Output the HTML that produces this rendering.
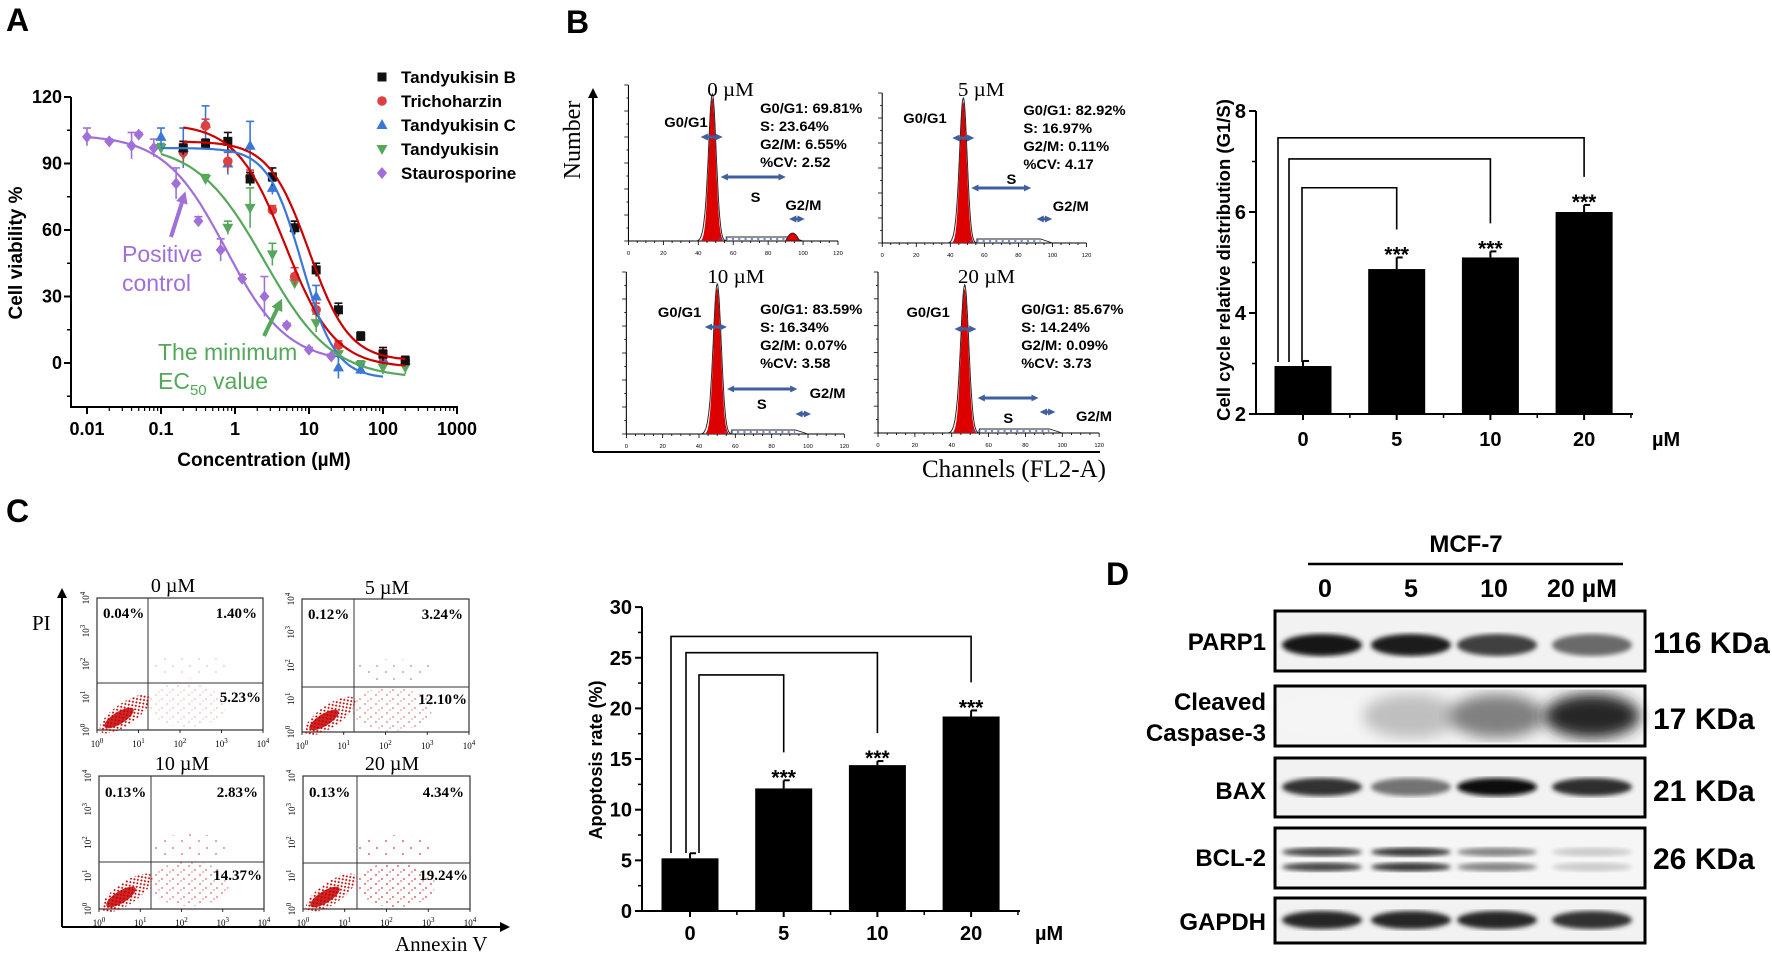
<!DOCTYPE html>
<html><head><meta charset="utf-8">
<style>
html,body{margin:0;padding:0;background:#fff;}
svg{display:block;font-family:"Liberation Sans",sans-serif;}
.serif{font-family:"Liberation Serif",serif;}
</style></head>
<body>
<svg id="fig" xmlns="http://www.w3.org/2000/svg" width="1772" height="953" viewBox="0 0 1772 953">
<defs>
<marker id="ah" viewBox="0 0 10 10" refX="5" refY="5" markerWidth="2.3" markerHeight="2.3" orient="auto-start-reverse"><path d="M0,0 L10,5 L0,10 z" fill="#3f5f9f"/></marker>
<marker id="ahk" viewBox="0 0 10 10" refX="8" refY="5" markerWidth="5" markerHeight="5" orient="auto"><path d="M0,0 L10,5 L0,10 z" fill="#000"/></marker>
<marker id="ahp" viewBox="0 0 10 10" refX="6" refY="5" markerWidth="3" markerHeight="3" orient="auto"><path d="M0,0 L10,5 L0,10 z" fill="#a06fd8"/></marker>
<marker id="ahg" viewBox="0 0 10 10" refX="6" refY="5" markerWidth="3" markerHeight="3" orient="auto"><path d="M0,0 L10,5 L0,10 z" fill="#55a85a"/></marker>
<pattern id="sparse" width="11" height="9" patternUnits="userSpaceOnUse"><circle cx="2" cy="2" r="0.9" fill="#d02020"/><circle cx="8" cy="6" r="0.9" fill="#d02020"/><circle cx="5" cy="8" r="0.7" fill="#d02020"/></pattern>
<pattern id="dense" width="5" height="5" patternUnits="userSpaceOnUse"><circle cx="1" cy="1" r="1" fill="#c00000"/><circle cx="3.5" cy="3.5" r="1" fill="#c00000"/></pattern>
<pattern id="vsparse" width="17" height="13" patternUnits="userSpaceOnUse"><circle cx="3" cy="3" r="0.9" fill="#d02020"/><circle cx="12" cy="9" r="0.9" fill="#d02020"/></pattern>
<filter id="blur2"><feGaussianBlur stdDeviation="2.5"/></filter>
<filter id="blur6"><feGaussianBlur stdDeviation="7"/></filter>
</defs>
</svg>
<script>
// ===== Panel A data =====
const aSeries=['Tandyukisin B','Trichoharzin','Tandyukisin C','Tandyukisin','Staurosporine'];
const aConcB=[0.2,0.4,0.8,1.6,3.2,6.4,12.5,25,50,100,200];
const aValB=[97,99,100,83,84,61,42,24,12,4,1];
const aErrB=[3,2,4,3,4,3,3,3,2,3,2];
const aConcR=[0.2,0.4,0.8,1.6,3.2,6.4,12.5,25,100,200];
const aValR=[95,107,91,84,69,39,24,8,3,1];
const aErrR=[4,3,5,3,2,4,3,2,3,2];
const aConcC=[0.1,0.2,0.4,0.8,1.6,3.2,6.4,12.5,25,50,100];
const aValC=[102,97,108,90,98,79,61,30,-2,-3,2];
const aErrC=[4,9,8,5,11,3,3,5,5,2,3];
const aConcG=[0.1,0.2,0.4,0.8,1.6,3.2,6.4,12.5,25,50,100,200];
const aValG=[97,94,83,61,70,49,36,18,4,-1,-2,-2];
const aErrG=[2,3,2,3,9,5,2,4,3,2,3,3];
const aConcP=[0.01,0.02,0.04,0.05,0.08,0.16,0.32,0.64,1.25,2.5,5,10,20];
const aValP=[102,100,98,103,97,81,64,51,38,30,17,6,3];
const aErrP=[4,1,6,1,4,7,2,5,2,9,1,1,1];
// curve params: top, bottom, EC50, hill, xmin, xmax
const aFitB=[100,1,10,1.6,0.2,200];
const aFitR=[108,-2,4.8,1.3,0.2,200];
const aFitC=[97,-7,8,1.9,0.1,100];
const aFitG=[99,-7,2.5,0.95,0.1,200];
const aFitP=[103,0,0.75,1.05,0.01,20];
const aXTicks=[0.01,0.1,1,10,100,1000];
const aXTickLabels=['0.01','0.1','1','10','100','1000'];
const aYTicks=[0,30,60,90,120];
// ===== Panel B bar data =====
const cycCats=['0','5','10','20'];
const cycVals=[2.95,4.87,5.1,6.0];
const cycErr=[0.1,0.23,0.12,0.14];
const cycTicks=[2,4,6,8];
const cycBrackets=[6.48,7.05,7.47];
// ===== Panel C bar data =====
const apoCats=['0','5','10','20'];
const apoVals=[5.2,12.1,14.4,19.2];
const apoErr=[0.5,0.8,0.4,0.6];
const apoTicks=[0,5,10,15,20,25,30];
const apoBrackets=[23.3,25.5,27.1];
// ===== Panel D band intensities =====
const wbLanes=['0','5','10','20 µM'];
const wbPARP=[0.92,0.88,0.75,0.58];
const wbCasp=[0.04,0.25,0.5,0.85];
const wbBAX=[0.8,0.55,0.95,0.82];
const wbBCL=[0.72,0.78,0.48,0.2];
const wbGAPDH=[0.85,0.85,0.85,0.8];

const NS='http://www.w3.org/2000/svg';
const svg=document.getElementById('fig');
function mk(parent,tag,attrs,name,text){
  const el=document.createElementNS(NS,tag);
  for(const k in attrs) el.setAttribute(k,attrs[k]);
  
  
  if(text!==undefined) el.textContent=text;
  parent.appendChild(el);
  return el;
}
function g(name){return mk(svg,'g',{},name);}
function line(p,x1,y1,x2,y2,name,st){return mk(p,'line',Object.assign({x1:x1,y1:y1,x2:x2,y2:y2,stroke:'#000','stroke-width':2},st||{}),name);}
function txt(p,x,y,s,name,st){return mk(p,'text',Object.assign({x:x,y:y,fill:'#000'},st||{}),name,s);}

const lt=g('panel-letters');
txt(lt,6,31,'A','panel-label-a',{'font-size':32,'font-weight':'bold'});
txt(lt,566,33,'B','panel-label-b',{'font-size':32,'font-weight':'bold'});
txt(lt,6,522,'C','panel-label-c',{'font-size':32,'font-weight':'bold'});
txt(lt,1106,585,'D','panel-label-d',{'font-size':32,'font-weight':'bold'});

// ===== Panel A =====
(function(){
  const P=g('panel-a-dose-response');
  const xA=c=>87+(Math.log10(c)+2)*74;
  const yA=v=>363-v*(66.5/30);
  line(P,71,97,71,408,'y-axis',{});
  line(P,70,407,458,407,'x-axis',{});
  aYTicks.forEach(v=>{line(P,64,yA(v),71,yA(v),'y-tick',{});
    txt(P,62,yA(v)+6,String(v),'y-tick-label',{'font-size':18,'font-weight':'bold','text-anchor':'end'});});
  for(let v=-15;v<=105;v+=30){line(P,67,yA(v),71,yA(v),'y-minor-tick',{'stroke-width':1.5});}
  aXTicks.forEach((c,i)=>{line(P,xA(c),407,xA(c),414,'x-tick',{});
    txt(P,xA(c),435,aXTickLabels[i],'x-tick-label',{'font-size':18,'font-weight':'bold','text-anchor':'middle'});
    if(i<aXTicks.length-1){for(let m=2;m<10;m++){line(P,xA(c*m),407,xA(c*m),411,'x-minor-tick',{'stroke-width':1.2});}}});
  txt(P,264,466,'Concentration (µM)','x-axis-title',{'font-size':19,'font-weight':'bold','text-anchor':'middle'});
  txt(P,0,0,'Cell viability %','y-axis-title',{'font-size':19,'font-weight':'bold','text-anchor':'middle',transform:'translate(22,253) rotate(-90)'});
  const ser=[
    {c:aConcB,v:aValB,e:aErrB,f:aFitB,col:'#111',lc:'#cc0000',m:'sq'},
    {c:aConcR,v:aValR,e:aErrR,f:aFitR,col:'#dd4040',lc:'#cc0000',m:'ci'},
    {c:aConcC,v:aValC,e:aErrC,f:aFitC,col:'#3a78d8',lc:'#3a78d8',m:'tu'},
    {c:aConcG,v:aValG,e:aErrG,f:aFitG,col:'#55a85a',lc:'#55a85a',m:'td'},
    {c:aConcP,v:aValP,e:aErrP,f:aFitP,col:'#a06fd8',lc:'#a06fd8',m:'di'}];
  function marker(p,x,y,m,col,name){
    if(m==='sq') return mk(p,'rect',{x:x-4.5,y:y-4.5,width:9,height:9,fill:col},name);
    if(m==='ci') return mk(p,'circle',{cx:x,cy:y,r:4.8,fill:col},name);
    if(m==='tu') return mk(p,'path',{d:`M${x},${y-6}L${x+5.5},${y+4}L${x-5.5},${y+4}Z`,fill:col},name);
    if(m==='td') return mk(p,'path',{d:`M${x},${y+6}L${x+5.5},${y-4}L${x-5.5},${y-4}Z`,fill:col},name);
    return mk(p,'path',{d:`M${x},${y-6}L${x+5},${y}L${x},${y+6}L${x-5},${y}Z`,fill:col},name);
  }
  [0,1,2,3,4].reverse().forEach(si=>{
    const s=ser[si];const sg=mk(P,'g',{},'series-'+aSeries[si].toLowerCase().replace(/ /g,'-'));
    s.c.forEach((c,i)=>{const x=xA(c);
      line(sg,x,yA(s.v[i]+s.e[i]),x,yA(s.v[i]-s.e[i]),'error-bar',{stroke:s.col,'stroke-width':1.6});
      line(sg,x-4,yA(s.v[i]+s.e[i]),x+4,yA(s.v[i]+s.e[i]),'error-cap',{stroke:s.col,'stroke-width':1.6});
      marker(sg,x,yA(s.v[i]),s.m,s.col,'data-point');});
  });
  ser.forEach((s,si)=>{const f=s.f;let d='';
    const l0=Math.log10(f[4]),l1=Math.log10(f[5]);
    for(let k=0;k<=80;k++){const c=Math.pow(10,l0+(l1-l0)*k/80);
      const v=f[1]+(f[0]-f[1])/(1+Math.pow(c/f[2],f[3]));
      d+=(k?'L':'M')+xA(c).toFixed(1)+','+yA(v).toFixed(1);}
    mk(P,'path',{d:d,fill:'none',stroke:s.lc,'stroke-width':2.2},'fit-curve');});
  const L=mk(P,'g',{},'legend');
  aSeries.forEach((n,i)=>{const y=77+i*24;
    marker(L,382,y,ser[i].m,ser[i].col,'legend-marker');
    txt(L,401,y+6,n,'legend-entry',{'font-size':17,'font-weight':'bold'});});
  txt(P,122,262,'Positive','annotation-positive',{'font-size':23,fill:'#a06fd8'});
  txt(P,122,291,'control','annotation-control',{'font-size':23,fill:'#a06fd8'});
  line(P,171,237,184,196,'annotation-arrow-purple',{stroke:'#a06fd8','stroke-width':4,'marker-end':'url(#ahp)'});
  txt(P,158,360,'The minimum','annotation-minimum',{'font-size':23,fill:'#55a85a'});
  const t=txt(P,158,389,'EC','annotation-ec50',{'font-size':23,fill:'#55a85a'});
  mk(t,'tspan',{'font-size':15,dy:6},'subscript','50');
  mk(t,'tspan',{dy:-6},'suffix',' value');
  line(P,264,336,280,303,'annotation-arrow-green',{stroke:'#55a85a','stroke-width':4,'marker-end':'url(#ahg)'});
})();

// ===== Panel B flow histograms =====
(function(){
  const P=g('panel-b-cell-cycle-histograms');
  line(P,593,452,1100,452,'big-x-axis',{'stroke-width':2});
  line(P,593,452,593,90,'big-y-axis',{'stroke-width':2,'marker-end':'url(#ahk)'});
  txt(P,0,0,'Number','y-axis-title',{'font-size':24,'text-anchor':'middle',class:'serif',transform:'translate(580,140) rotate(-90)'});
  txt(P,1014,477,'Channels (FL2-A)','x-axis-title',{'font-size':25,'text-anchor':'middle',class:'serif'});
  const Q=mk(P,'g',{transform:'matrix(1.053,0,0,1,-22.3,0)'},'histogram-grid');
  const fb=[
   {t:'0 µM',tx:715,ty:96,x0:618,x1:817,yT:85,yb:241,pk:48,pY:98,g2:true,s:['G0/G1: 69.81%','S: 23.64%','G2/M: 6.55%','%CV: 2.52'],sx:743,sy:113,g1L:[652,127],g1A:[687,707,137],sA:[706,767,177],sL:[734,202],g2L:[767,210],g2A:[771,785,219]},
   {t:'5 µM',tx:953,ty:96,x0:859,x1:1053,yT:93,yb:243,pk:47.6,pY:102,g2:false,s:['G0/G1: 82.92%','S: 16.97%','G2/M: 0.11%','%CV: 4.17'],sx:993,sy:115,g1L:[879,123],g1A:[926,946,138],sA:[944,1000,188],sL:[977,184],g2L:[1021,211],g2A:[1006,1020,219]},
   {t:'10 µM',tx:720,ty:283,x0:616,x1:823,yT:272,yb:434,pk:50,pY:288,g2:false,s:['G0/G1: 83.59%','S: 16.34%','G2/M: 0.07%','%CV: 3.58'],sx:743,sy:314,g1L:[646,317],g1A:[691,711,327],sA:[712,778,389],sL:[740,409],g2L:[790,398],g2A:[777,791,414]},
   {t:'20 µM',tx:958,ty:283,x0:855,x1:1065,yT:272,yb:433,pk:47,pY:289,g2:false,s:['G0/G1: 85.67%','S: 14.24%','G2/M: 0.09%','%CV: 3.73'],sx:991,sy:314,g1L:[882,317],g1A:[928,948,329],sA:[950,1007,398],sL:[974,423],g2L:[1043,421],g2A:[1009,1023,412]}];
  fb.forEach(f=>{
    const S=mk(Q,'g',{},'histogram-'+f.t.replace(' µM','um'));
    const X=ch=>f.x0+(f.x1-f.x0)*ch/120;
    line(S,f.x0,f.yT,f.x0,f.yb,'hist-y-axis',{'stroke-width':1});
    line(S,f.x0,f.yb,f.x1,f.yb,'hist-x-axis',{'stroke-width':1});
    for(let k=0;k<=24;k++){line(S,X(k*5),f.yb,X(k*5),f.yb+(k%4===0?4:2),'hist-x-tick',{'stroke-width':0.8});}
    for(let k=0;k<=6;k++){txt(S,X(k*20),f.yb+14,String(k*20),'hist-x-tick-label',{'font-size':5.5,'text-anchor':'middle'});}
    for(let k=0;k<=12;k++){const y=f.yb-(f.yb-f.yT)*k/12;line(S,f.x0-(k%2===0?4:2),y,f.x0,y,'hist-y-tick',{'stroke-width':0.8});}
    const H=f.yb-f.pY;
    let d='M'+X(f.pk-6)+','+f.yb;let o='M'+X(f.pk-10)+','+f.yb;
    for(let k=-6;k<=6;k+=0.25){d+='L'+X(f.pk+k).toFixed(1)+','+(f.yb-H*Math.exp(-k*k/(2*2*2))).toFixed(1);}
    d+='L'+X(f.pk+6)+','+f.yb+'Z';
    for(let k=-10;k<=8;k+=0.25){const h=H*1.02*Math.exp(-k*k/(2*2.1*2.1))+(k<0?9*Math.exp(-(k+4)*(k+4)/6):8*Math.exp(-(k-3)*(k-3)/5));o+='L'+X(f.pk+k).toFixed(1)+','+(f.yb-h).toFixed(1);}
    o+='L'+X(f.pk+8)+','+(f.yb-4)+'L'+X(93)+','+(f.yb-4)+'L'+X(100)+','+f.yb;
    mk(S,'path',{d:d,fill:'#dd0000'},'g1-peak');
    mk(S,'path',{d:o,fill:'none',stroke:'#222','stroke-width':0.9},'histogram-outline');
    line(S,X(f.pk+4),f.yb-2,X(93),f.yb-2,'s-phase-fill',{stroke:'#4060d0','stroke-width':1.5,'stroke-dasharray':'2 4'});
    if(f.g2){mk(S,'path',{d:`M${X(90)},${f.yb}Q${X(94)},${f.yb-16} ${X(98)},${f.yb}Z`,fill:'#dd0000',stroke:'#222','stroke-width':0.8},'g2-peak');}
    txt(S,f.tx,f.ty,f.t,'histogram-title',{'font-size':20,'text-anchor':'middle',class:'serif'});
    f.s.forEach((s,i)=>txt(S,f.sx,f.sy+i*18,s,'phase-stat',{'font-size':14,'font-weight':'bold'}));
    txt(S,f.g1L[0],f.g1L[1],'G0/G1','g0g1-label',{'font-size':14,'font-weight':'bold'});
    txt(S,f.sL[0],f.sL[1],'S','s-label',{'font-size':14,'font-weight':'bold'});
    txt(S,f.g2L[0],f.g2L[1],'G2/M','g2m-label',{'font-size':14,'font-weight':'bold'});
    [f.g1A,f.sA,f.g2A].forEach(a=>line(S,a[0]+3,a[2],a[1]-3,a[2],'phase-range-arrow',{stroke:'#3f5f9f','stroke-width':3,'marker-start':'url(#ah)','marker-end':'url(#ah)'}));
  });
})();

// ===== Bar chart helper =====
function barChart(P,o){
  const y=o.y;
  line(P,o.ax,y(o.ticks[0])+1,o.ax,y(o.ticks[o.ticks.length-1]),'y-axis',{});
  line(P,o.ax-1,y(o.ticks[0]),o.axEnd,y(o.ticks[0]),'x-axis',{});
  o.ticks.forEach(t=>{line(P,o.ax-7,y(t),o.ax,y(t),'y-tick',{});
    txt(P,o.ax-10,y(t)+7,String(t),'y-tick-label',{'font-size':20,'font-weight':'bold','text-anchor':'end'});});
  for(let i=0;i<o.ticks.length-1;i++){const m=(o.ticks[i]+o.ticks[i+1])/2;line(P,o.ax-4,y(m),o.ax,y(m),'y-minor-tick',{'stroke-width':1.5});}
  o.cats.forEach((c,i)=>{const cx=o.c0+i*o.step;
    line(P,cx,y(o.ticks[0]),cx,y(o.ticks[0])+6,'x-tick',{});
    line(P,cx+o.step/2,y(o.ticks[0]),cx+o.step/2,y(o.ticks[0])+4,'x-minor-tick',{'stroke-width':1.5});
    txt(P,cx,o.labY,c,'x-tick-label',{'font-size':20,'font-weight':'bold','text-anchor':'middle'});
    const top=y(o.vals[i]),et=y(o.vals[i]+o.err[i]);
    line(P,cx,top,cx,et,'error-bar',{'stroke-width':2});
    line(P,cx,et,cx+6,et,'error-cap',{'stroke-width':2});
    mk(P,'rect',{x:cx-28.5,y:top,width:57,height:y(o.ticks[0])-top,fill:'#000'},'bar-'+c);
    if(i>0){
      txt(P,cx,et+4,'***','significance-stars',{'font-size':21,'font-weight':'bold','text-anchor':'middle'});
      const by=y(o.brk[i-1]),lx=o.c0+o.lOff[i-1];
      mk(P,'path',{d:`M${lx},${o.lBot}V${by}H${cx}V${et-28}`,fill:'none',stroke:'#000','stroke-width':1.6},'significance-bracket');
    }
  });
  txt(P,o.umX,o.labY,'µM','x-unit-label',{'font-size':20,'font-weight':'bold'});
}
(function(){
  const P=g('panel-b-g1s-bar-chart');
  barChart(P,{y:v=>414-(v-2)*50.5,ticks:cycTicks,cats:cycCats,vals:cycVals,err:cycErr,brk:cycBrackets,
    ax:1256,axEnd:1633,c0:1303,step:93.7,labY:446,umX:1652,lOff:[-1,-14,-25],lBot:362});
  txt(P,0,0,'Cell cycle relative distribution (G1/S)','y-axis-title',{'font-size':18.5,'font-weight':'bold','text-anchor':'middle',transform:'translate(1230,260) rotate(-90)'});
})();
(function(){
  const P=g('panel-c-apoptosis-bar-chart');
  barChart(P,{y:v=>911-v*10.13,ticks:apoTicks,cats:apoCats,vals:apoVals,err:apoErr,brk:apoBrackets,
    ax:642,axEnd:1020,c0:690,step:93.7,labY:940,umX:1035,lOff:[9,-4,-19],lBot:853});
  txt(P,0,0,'Apoptosis rate (%)','y-axis-title',{'font-size':18,'font-weight':'bold','text-anchor':'middle',transform:'translate(602,760) rotate(-90)'});
})();

// ===== Panel C scatter =====
(function(){
  const P=g('panel-c-annexin-scatter');
  line(P,62,927,508,927,'big-x-axis',{'stroke-width':2,'marker-end':'url(#ahk)'});
  line(P,62,927,62,590,'big-y-axis',{'stroke-width':2,'marker-end':'url(#ahk)'});
  txt(P,32,630,'PI','y-axis-title',{'font-size':21,class:'serif'});
  txt(P,395,951,'Annexin V','x-axis-title',{'font-size':21,class:'serif'});
  const sc=[
   {t:'0 µM',tx:173,ty:592,x0:97,x1:263,y0:598,y1:730,vx:148,hy:683,p:['0.04%','1.40%','5.23%'],ly:618,lry:702,den:0.3},
   {t:'5 µM',tx:387,ty:594,x0:302,x1:469,y0:599,y1:732,vx:354,hy:687,p:['0.12%','3.24%','12.10%'],ly:619,lry:704,den:0.6},
   {t:'10 µM',tx:182,ty:770,x0:99,x1:264,y0:776,y1:909,vx:151,hy:862,p:['0.13%','2.83%','14.37%'],ly:797,lry:880,den:0.7},
   {t:'20 µM',tx:392,ty:770,x0:303,x1:470,y0:776,y1:909,vx:357,hy:863,p:['0.13%','4.34%','19.24%'],ly:797,lry:880,den:0.9}];
  sc.forEach(s=>{
    const S=mk(P,'g',{},'scatter-'+s.t.replace(' µM','um'));
    mk(S,'rect',{x:s.x0,y:s.y0,width:s.x1-s.x0,height:s.y1-s.y0,fill:'none',stroke:'#333','stroke-width':1.2},'plot-frame');
    line(S,s.vx,s.y0,s.vx,s.y1,'quadrant-vline',{'stroke-width':1,stroke:'#333'});
    line(S,s.x0,s.hy,s.x1,s.hy,'quadrant-hline',{'stroke-width':1,stroke:'#333'});
    mk(S,'ellipse',{cx:s.vx+38,cy:s.hy+22,rx:40,ry:22,fill:'url(#sparse)',opacity:s.den},'early-apoptotic-events');
    mk(S,'ellipse',{cx:s.vx+40,cy:s.hy-16,rx:40,ry:12,fill:'url(#vsparse)',opacity:s.den},'late-apoptotic-events');
    mk(S,'ellipse',{cx:s.x0+28,cy:s.y1-16,rx:30,ry:11,fill:'url(#dense)',transform:`rotate(-35 ${s.x0+28} ${s.y1-16})`},'cluster-halo');
    mk(S,'ellipse',{cx:s.x0+22,cy:s.y1-12,rx:17,ry:6,fill:'#c40000',opacity:0.85,transform:`rotate(-32 ${s.x0+22} ${s.y1-12})`},'viable-cell-cluster');
    const w=(s.x1-s.x0)/4,h=(s.y1-s.y0)/4;
    for(let k=0;k<=4;k++){
      const tx=txt(S,s.x0+k*w,s.y1+17,'10','x-tick-label',{'font-size':9,'text-anchor':'middle',class:'serif'});
      mk(tx,'tspan',{dy:-4,'font-size':7},'exponent',String(k));
      const ty=txt(S,0,0,'10','y-tick-label',{'font-size':9,'text-anchor':'middle',class:'serif',transform:`translate(${s.x0-8},${s.y1-k*h}) rotate(-90)`});
      mk(ty,'tspan',{dy:-4,'font-size':7},'exponent',String(k));
      line(S,s.x0+k*w,s.y1,s.x0+k*w,s.y1+3,'x-tick',{'stroke-width':0.8});
    }
    txt(S,s.tx,s.ty,s.t,'scatter-title',{'font-size':20,'text-anchor':'middle',class:'serif'});
    txt(S,s.x0+6,s.ly,s.p[0],'quadrant-ul-percent',{'font-size':15,'font-weight':'bold',class:'serif'});
    txt(S,s.x1-6,s.ly,s.p[1],'quadrant-ur-percent',{'font-size':15,'font-weight':'bold',class:'serif','text-anchor':'end'});
    txt(S,s.x1-2,s.lry,s.p[2],'quadrant-lr-percent',{'font-size':15,'font-weight':'bold',class:'serif','text-anchor':'end'});
  });
})();

// ===== Panel D western blot =====
(function(){
  const P=g('panel-d-western-blot');
  txt(P,1466,552,'MCF-7','cell-line-label',{'font-size':24,'font-weight':'bold','text-anchor':'middle'});
  line(P,1308,564,1623,564,'cell-line-bar',{'stroke-width':2.5});
  const lx=[1325,1411,1494,1582];
  wbLanes.forEach((l,i)=>txt(P,lx[i],597,l,'lane-label',{'font-size':25,'font-weight':'bold','text-anchor':'middle'}));
  const laneC=[1322,1411,1497,1592];
  const bx=1275,bw=370;
  const rows=[
   {n:'PARP1',vals:wbPARP,y0:611,y1:671,bands:[645],bh:11,kda:'116 KDa',ky:653,lab:[['PARP1',650]],bg:'#f2f2f2'},
   {n:'Cleaved Caspase-3',vals:wbCasp,y0:686,y1:746,bands:[716],bh:22,kda:'17 KDa',ky:729,lab:[['Cleaved',710],['Caspase-3',741]],bg:'#f4f4f4',blur:true},
   {n:'BAX',vals:wbBAX,y0:758,y1:817,bands:[787],bh:9,kda:'21 KDa',ky:801,lab:[['BAX',799]],bg:'#f2f2f2'},
   {n:'BCL-2',vals:wbBCL,y0:828,y1:888,bands:[852,867],bh:4.5,kda:'26 KDa',ky:869,lab:[['BCL-2',866]],bg:'#f6f6f6'},
   {n:'GAPDH',vals:wbGAPDH,y0:898,y1:943,bands:[920],bh:9,kda:'',ky:0,lab:[['GAPDH',930]],bg:'#f2f2f2'}];
  rows.forEach(r=>{
    const R=mk(P,'g',{},'blot-'+r.n.toLowerCase().replace(/ /g,'-'));
    mk(R,'rect',{x:bx,y:r.y0,width:bw,height:r.y1-r.y0,fill:r.bg},'blot-background');
    r.vals.forEach((v,i)=>{r.bands.forEach(by=>{
      const gray=Math.round(255*(1-v));
      mk(R,'ellipse',{cx:laneC[i],cy:by,rx:r.blur?48:40,ry:r.bh,fill:`rgb(${gray},${gray},${gray})`,filter:r.blur?'url(#blur6)':'url(#blur2)'},'band-lane-'+wbLanes[i].replace(' µM',''));});});
    mk(R,'rect',{x:bx,y:r.y0,width:bw,height:r.y1-r.y0,fill:'none',stroke:'#000','stroke-width':3},'blot-frame');
    r.lab.forEach(l=>txt(R,1266,l[1],l[0],'protein-label',{'font-size':24,'font-weight':'bold','text-anchor':'end'}));
    if(r.kda) txt(R,1653,r.ky,r.kda,'molecular-weight-label',{'font-size':30,'font-weight':'bold'});
  });
})();
</script>
</body></html>
